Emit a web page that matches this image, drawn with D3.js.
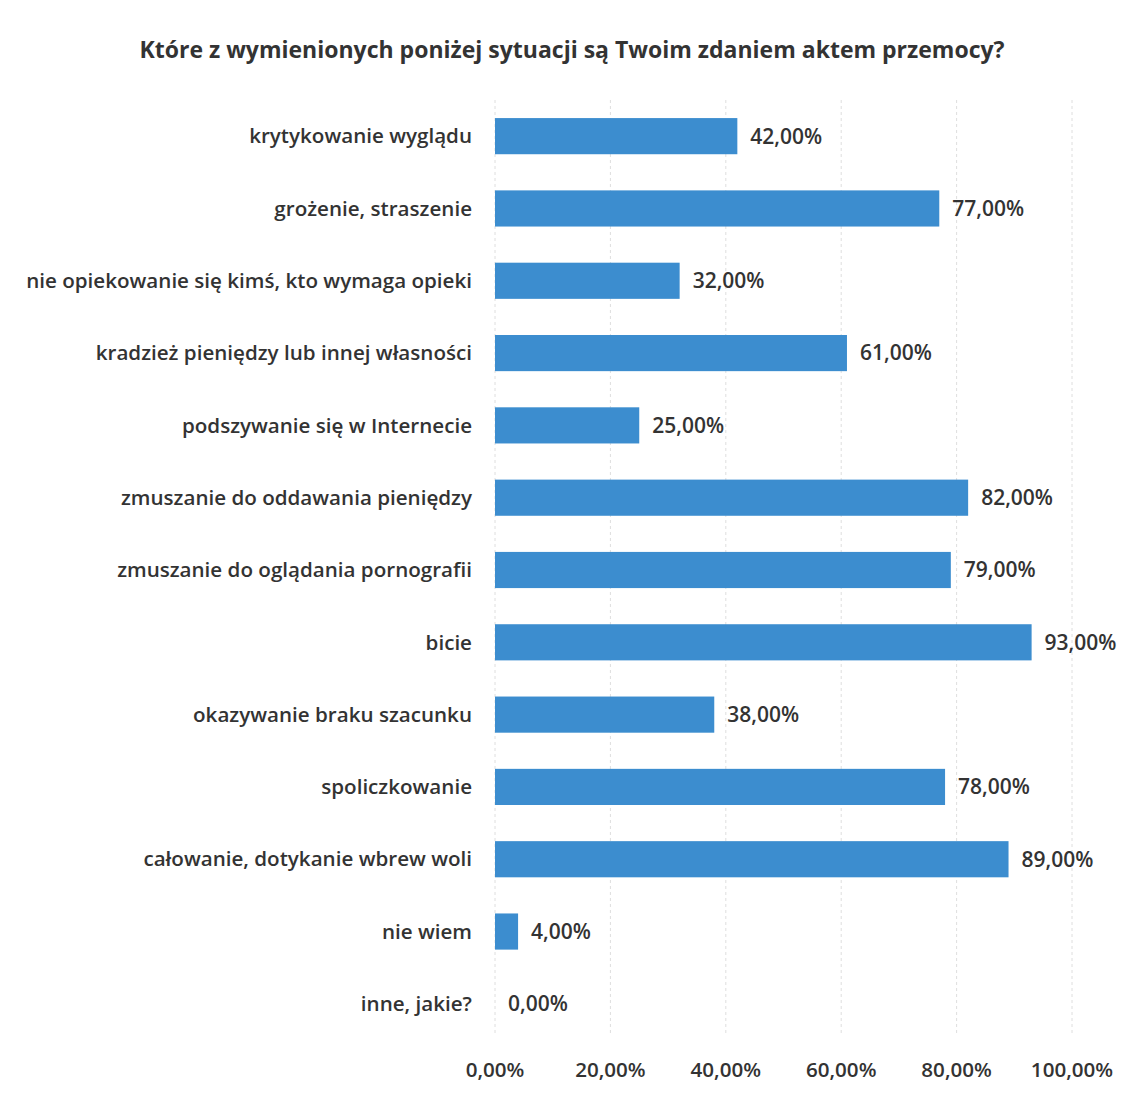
<!DOCTYPE html>
<html><head><meta charset="utf-8">
<script src="https://cdn.jsdelivr.net/npm/d3@7"></script>
<style>body{margin:0;background:#fff;} text{font-family:"Open Sans",sans-serif;}</style>
</head><body><svg id="c" width="1130" height="1095"></svg>
<script>
const categories = ["krytykowanie wyglądu","grożenie, straszenie","nie opiekowanie się kimś, kto wymaga opieki","kradzież pieniędzy lub innej własności","podszywanie się w Internecie","zmuszanie do oddawania pieniędzy","zmuszanie do oglądania pornografii","bicie","okazywanie braku szacunku","spoliczkowanie","całowanie, dotykanie wbrew woli","nie wiem","inne, jakie?"];
const values = [42,77,32,61,25,82,79,93,38,78,89,4,0];
const tickValues = [0,20,40,60,80,100];
const tickLabels = ["0,00%","20,00%","40,00%","60,00%","80,00%","100,00%"];
const title = "Które z wymienionych poniżej sytuacji są Twoim zdaniem aktem przemocy?";

const svg = d3.select("#c");
const x = d3.scaleLinear().domain([0,100]).range([495,1072]);
const y = d3.scaleBand().domain(categories).range([100,1040]).paddingInner(0.5).paddingOuter(0.25);
const fmt = v => v.toFixed(2).replace(".",",")+"%";
const txt = "#333";

svg.append("text").attr("x",572).attr("y",58).attr("text-anchor","middle")
  .attr("font-size",23).attr("font-weight",700).attr("fill",txt).text(title);

svg.append("g").selectAll("line").data(tickValues).join("line")
  .attr("x1",d=>x(d)).attr("x2",d=>x(d)).attr("y1",100).attr("y2",1035)
  .attr("stroke","#dedede").attr("stroke-width",1).attr("stroke-dasharray","3,3");

svg.append("g").selectAll("rect").data(values).join("rect")
  .attr("x",x(0)).attr("y",(d,i)=>y(categories[i])).attr("width",d=>x(d)-x(0))
  .attr("height",y.bandwidth()).attr("fill","#3c8dcf");

svg.append("g").selectAll("text").data(values).join("text")
  .attr("x",d=>x(d)+13).attr("y",(d,i)=>y(categories[i])+y.bandwidth()/2)
  .attr("dy","0.35em").attr("font-size",21).attr("font-weight",600).attr("fill",txt).text(fmt);

svg.append("g").selectAll("text").data(categories).join("text")
  .attr("x",472).attr("y",d=>y(d)+y.bandwidth()/2).attr("dy","0.35em")
  .attr("text-anchor","end").attr("font-size",20.6).attr("font-weight",600).attr("fill",txt).text(d=>d);

svg.append("g").selectAll("text").data(tickValues).join("text")
  .attr("x",d=>x(d)).attr("y",1077).attr("text-anchor","middle")
  .attr("font-size",20.6).attr("font-weight",600).attr("fill",txt).text((d,i)=>tickLabels[i]);
</script></body></html>
